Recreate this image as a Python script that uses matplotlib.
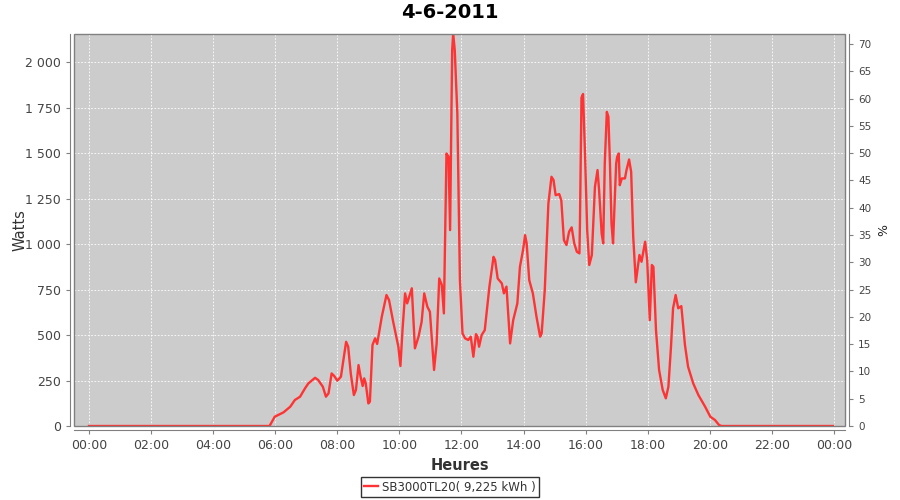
import matplotlib

matplotlib.use('Agg')
import matplotlib.pyplot as plt
from matplotlib.patches import Rectangle
from matplotlib.ticker import FuncFormatter, MultipleLocator

# 采样时间与功率 (W)
times = [
  '00:00', '05:49', '05:59', '06:16', '06:29', '06:38', '06:48', '06:58', '07:04', '07:17',
  '07:23', '07:32', '07:38', '07:43', '07:49', '07:54', '08:00', '08:07', '08:17', '08:21',
  '08:26', '08:32', '08:36', '08:41', '08:45', '08:49', '08:52', '08:55', '09:00', '09:03',
  '09:08', '09:13', '09:17', '09:26', '09:35', '09:40', '09:48', '09:58', '10:02', '10:06',
  '10:11', '10:15', '10:24', '10:30', '10:37', '10:43', '10:48', '10:54', '10:59', '11:07',
  '11:12', '11:17', '11:22', '11:26', '11:31', '11:35', '11:38', '11:42', '11:44', '11:47',
  '11:52', '11:57', '12:02', '12:07', '12:13', '12:18', '12:23', '12:28', '12:31', '12:34',
  '12:39', '12:45', '12:54', '13:02', '13:05', '13:10', '13:18', '13:22', '13:27', '13:34',
  '13:40', '13:48', '13:53', '13:59', '14:03', '14:06', '14:11', '14:18', '14:25', '14:32',
  '14:35', '14:41', '14:48', '14:54', '14:58', '15:02', '15:09', '15:13', '15:18', '15:23',
  '15:28', '15:33', '15:38', '15:43', '15:48', '15:49', '15:52', '15:55', '15:59', '16:03',
  '16:07', '16:12', '16:18', '16:23', '16:26', '16:31', '16:34', '16:37', '16:41', '16:44',
  '16:47', '16:50', '16:53', '16:59', '17:01', '17:04', '17:06', '17:10', '17:16', '17:19',
  '17:24', '17:28', '17:32', '17:37', '17:44', '17:48', '17:55', '17:59', '18:04', '18:08',
  '18:11', '18:16', '18:22', '18:29', '18:35', '18:40', '18:45', '18:49', '18:54', '18:59',
  '19:05', '19:12', '19:18', '19:28', '19:38', '19:51', '20:01', '20:10', '20:18', '20:23',
  '23:58',
]
watts = [
  0, 0, 51, 75, 106, 143, 161, 209, 234, 265,
  253, 216, 161, 179, 289, 275, 249, 271, 463, 436,
  289, 170, 198, 335, 271, 220, 262, 234, 124, 134,
  445, 482, 451, 601, 720, 692, 573, 436, 330, 527,
  729, 674, 757, 427, 491, 573, 729, 656, 628, 308,
  454, 811, 775, 619, 1498, 1480, 1077, 2066, 2158, 2066,
  1718, 802, 509, 482, 473, 491, 381, 505, 491, 436,
  500, 527, 766, 930, 912, 811, 784, 729, 766, 454,
  582, 674, 875, 967, 1049, 1004, 802, 729, 601, 491,
  509, 747, 1223, 1370, 1352, 1269, 1275, 1240, 1022, 995,
  1068, 1092, 1004, 958, 949, 1113, 1805, 1825, 1480, 1077,
  885, 940, 1315, 1407, 1297, 1058, 1004, 1443, 1727, 1700,
  1443, 1113, 1004, 1443, 1480, 1498, 1324, 1361, 1361, 1407,
  1465, 1397, 1040, 790, 940, 903, 1013, 912, 582, 885,
  875, 527, 308, 198, 152, 216, 436, 647, 720, 647,
  659, 445, 326, 234, 170, 106, 51, 33, 5, 0,
  0,
]

series_label = 'SB3000TL20( 9,225 kWh )'
title = '4-6-2011'


def to_hours(hhmm):
  h, m = hhmm.split(':')
  return int(h) + int(m) / 60.0


def main():
  hours = [to_hours(t) for t in times]
  grey = '#808080'
  tick_col = '#444444'

  fig = plt.figure(figsize=(9, 5), dpi=100)
  ax = fig.add_axes([74 / 900, 1 - 426 / 500, (845 - 74) / 900, (426 - 34) / 500])
  ax.set_facecolor('#cccccc')

  ax.plot(hours, watts, color='#ff3333', lw=1.7, label=series_label, zorder=3)

  ax.set_xlim(-0.483, 24.356)
  ax.set_ylim(0, 2155)
  ax.xaxis.set_major_locator(MultipleLocator(2))
  ax.xaxis.set_major_formatter(FuncFormatter(lambda v, p: '%02d:00' % (int(round(v)) % 24)))
  ax.yaxis.set_major_locator(MultipleLocator(250))
  ax.yaxis.set_major_formatter(FuncFormatter(lambda v, p: '{:,.0f}'.format(v).replace(',', ' ')))
  ax.grid(True, color='white', linestyle=(0, (2, 2)), lw=0.6)
  ax.set_axisbelow(True)

  # 右轴 %
  ax2 = ax.twinx()
  ax2.set_ylim(0, 2155 / 30.0)
  ax2.yaxis.set_major_locator(MultipleLocator(5))
  ax2.set_ylabel('%', fontsize=9, color='#222222', labelpad=4)

  # 边框与分离的坐标轴线
  ax.add_patch(Rectangle((0, 0), 1, 1, transform=ax.transAxes, fill=False,
                         edgecolor=grey, lw=1.0, clip_on=False, zorder=5))
  for a in (ax, ax2):
    a.spines['top'].set_visible(False)
    for s in ('left', 'right', 'bottom'):
      a.spines[s].set_color(grey)
      a.spines[s].set_position(('outward', 3))
  ax.spines['right'].set_visible(False)
  ax2.spines['left'].set_visible(False)
  ax2.spines['bottom'].set_visible(False)

  ax.tick_params(axis='both', colors=grey, labelcolor=tick_col, labelsize=9, length=3, width=0.8)
  ax2.tick_params(axis='y', colors=grey, labelcolor=tick_col, labelsize=7.5, length=3, width=0.8)

  ax.set_xlabel('Heures', fontsize=10.5, fontweight='bold', color='#333333', labelpad=4)
  ax.set_ylabel('Watts', fontsize=10.5, color='#333333', labelpad=-2)
  fig.suptitle(title, x=0.5, y=0.995, fontsize=14, fontweight='bold', va='top')

  fig.legend(loc='center', bbox_to_anchor=(0.5, 0.026), fontsize=8.5, frameon=True,
             fancybox=False, edgecolor='black', handlelength=1.2, borderpad=0.3,
             handletextpad=0.3, labelcolor='#333333')

  fig.savefig('out.png', dpi=100)
  plt.close(fig)


if __name__ == '__main__':
  main()
